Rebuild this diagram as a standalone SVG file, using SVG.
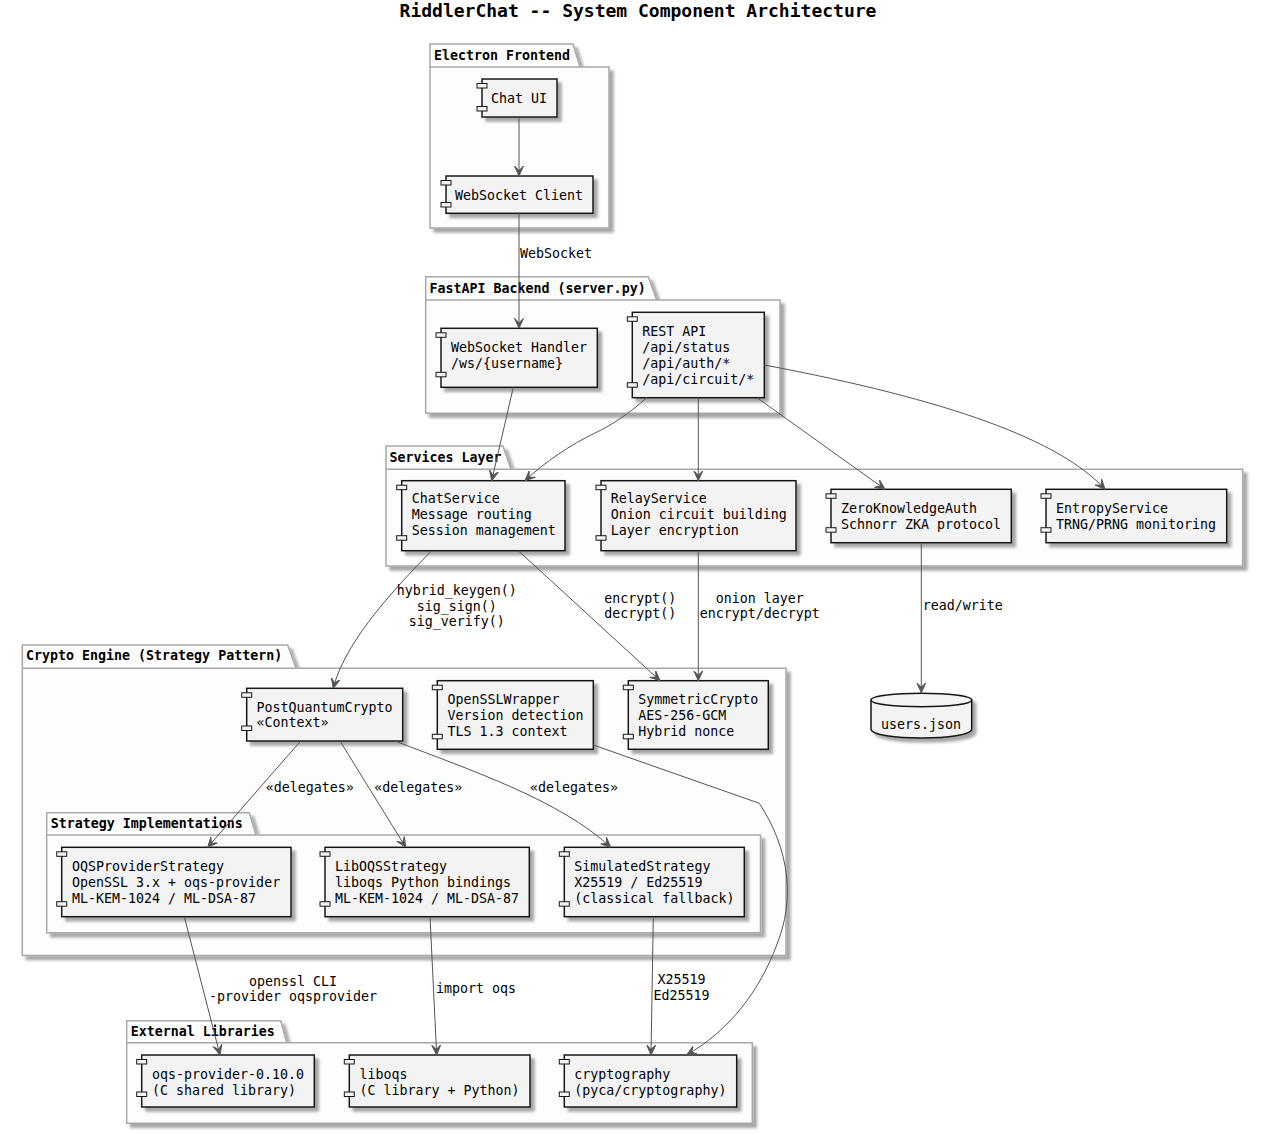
<svg xmlns="http://www.w3.org/2000/svg" width="1263" height="1135" viewBox="0 0 1263 1135">
<style>
.pk{fill:#FDFDFD;stroke:#A8A8A8;stroke-width:1.5}
.pkl{font-family:"DejaVu Sans Mono","Liberation Mono",monospace;font-size:13.3px;font-weight:bold;fill:#000}
.cb{fill:#F3F3F3;stroke:#181818;stroke-width:1.5}
.cs{fill:#F3F3F3;stroke:#181818;stroke-width:1}
.ct{font-family:"DejaVu Sans Mono","Liberation Mono",monospace;font-size:13.3px;fill:#000}
.e{fill:none;stroke:#555555;stroke-width:1;marker-end:url(#arr)}
.el{font-family:"DejaVu Sans Mono","Liberation Mono",monospace;font-size:13.3px;fill:#000}
.mid{text-anchor:middle}
.title{font-family:"DejaVu Sans Mono","Liberation Mono",monospace;font-size:18px;font-weight:bold;fill:#000;text-anchor:middle}
</style>
<defs>
<filter id="sh" x="-10%" y="-10%" width="130%" height="140%">
<feGaussianBlur in="SourceAlpha" stdDeviation="1.5"/>
<feOffset dx="3.5" dy="3.5" result="o"/>
<feComponentTransfer><feFuncA type="linear" slope="0.35"/></feComponentTransfer>
<feMerge><feMergeNode/><feMergeNode in="SourceGraphic"/></feMerge>
</filter>
<marker id="arr" viewBox="0 0 10 10" markerWidth="10" markerHeight="10" refX="10" refY="5" orient="auto" markerUnits="userSpaceOnUse">
<path d="M0,0.5 L10,5 L0,9.5 L4.5,5 Z" fill="#555555" stroke="#555555" stroke-width="1"/>
</marker>
</defs>
<rect width="1263" height="1135" fill="#FFFFFF"/>
<text class="title" x="638" y="17.3">RiddlerChat -- System Component Architecture</text>

<!-- packages -->
<g id="pkg-electron">
<path class="pk" filter="url(#sh)" d="M430,44 L573,44 L580,67 L609,67 L609,228 L430,228 Z"/>
<path class="pk" d="M430,67 L580,67"/>
<text class="pkl" x="434" y="60">Electron Frontend</text>
</g>
<g id="pkg-fastapi">
<path class="pk" filter="url(#sh)" d="M425.7,276.7 L648.3,276.7 L656.7,300 L780,300 L780,413.3 L425.7,413.3 Z"/>
<path class="pk" d="M425.7,300 L656.7,300"/>
<text class="pkl" x="429.5" y="292.7">FastAPI Backend (server.py)</text>
</g>
<g id="pkg-services">
<path class="pk" filter="url(#sh)" d="M386,446 L503,446 L511,469.3 L1242.7,469.3 L1242.7,566 L386,566 Z"/>
<path class="pk" d="M386,469.3 L511,469.3"/>
<text class="pkl" x="389.5" y="461.7">Services Layer</text>
</g>
<g id="pkg-crypto">
<path class="pk" filter="url(#sh)" d="M22.3,645 L287.7,645 L296,668.3 L786,668.3 L786,955.5 L22.3,955.5 Z"/>
<path class="pk" d="M22.3,668.3 L296,668.3"/>
<text class="pkl" x="26" y="660">Crypto Engine (Strategy Pattern)</text>
</g>
<g id="pkg-strategy">
<path class="pk" filter="url(#sh)" d="M46.7,812.7 L249.3,812.7 L256,835 L760.5,835 L760.5,932.7 L46.7,932.7 Z"/>
<path class="pk" d="M46.7,835 L256,835"/>
<text class="pkl" x="50.7" y="827.7">Strategy Implementations</text>
</g>
<g id="pkg-external">
<path class="pk" filter="url(#sh)" d="M126.7,1020.7 L280.7,1020.7 L286.7,1042.7 L752.3,1042.7 L752.3,1123.3 L126.7,1123.3 Z"/>
<path class="pk" d="M126.7,1042.7 L286.7,1042.7"/>
<text class="pkl" x="130.7" y="1036">External Libraries</text>
</g>

<!-- components -->
<g id="chat-ui">
<rect class="cb" filter="url(#sh)" x="482" y="79" width="75" height="38"/>
<rect class="cs" x="477" y="83.5" width="10" height="4.5"/>
<rect class="cs" x="477" y="106.5" width="10" height="4.5"/>
<text class="ct" x="491" y="103">Chat UI</text>
</g>
<g id="ws-client">
<rect class="cb" filter="url(#sh)" x="446" y="176" width="147" height="37.3"/>
<rect class="cs" x="441" y="180.5" width="10" height="4.5"/>
<rect class="cs" x="441" y="202.5" width="10" height="4.5"/>
<text class="ct" x="455" y="199.5">WebSocket Client</text>
</g>
<g id="ws-handler">
<rect class="cb" filter="url(#sh)" x="441" y="328.3" width="156.3" height="59"/>
<rect class="cs" x="436" y="332.8" width="10" height="4.5"/>
<rect class="cs" x="436" y="372.3" width="10" height="4.5"/>
<text class="ct" x="451" y="351.7">WebSocket Handler</text>
<text class="ct" x="451" y="367.7">/ws/{username}</text>
</g>
<g id="rest-api">
<rect class="cb" filter="url(#sh)" x="632.3" y="312.3" width="132" height="85.4"/>
<rect class="cs" x="627.3" y="316.8" width="10" height="4.5"/>
<rect class="cs" x="627.3" y="382.7" width="10" height="4.5"/>
<text class="ct" x="642.3" y="335.7">REST API</text>
<text class="ct" x="642.3" y="351.7">/api/status</text>
<text class="ct" x="642.3" y="367.7">/api/auth/*</text>
<text class="ct" x="642.3" y="383.7">/api/circuit/*</text>
</g>
<g id="chat-service">
<rect class="cb" filter="url(#sh)" x="401.7" y="480.7" width="163.3" height="70"/>
<rect class="cs" x="396.7" y="485.2" width="10" height="4.5"/>
<rect class="cs" x="396.7" y="535.7" width="10" height="4.5"/>
<text class="ct" x="411.7" y="503.3">ChatService</text>
<text class="ct" x="411.7" y="519.3">Message routing</text>
<text class="ct" x="411.7" y="535.3">Session management</text>
</g>
<g id="relay-service">
<rect class="cb" filter="url(#sh)" x="601" y="480.7" width="195" height="70"/>
<rect class="cs" x="596" y="485.2" width="10" height="4.5"/>
<rect class="cs" x="596" y="535.7" width="10" height="4.5"/>
<text class="ct" x="610.7" y="503.3">RelayService</text>
<text class="ct" x="610.7" y="519.3">Onion circuit building</text>
<text class="ct" x="610.7" y="535.3">Layer encryption</text>
</g>
<g id="zka">
<rect class="cb" filter="url(#sh)" x="831" y="489.3" width="180.3" height="53.4"/>
<rect class="cs" x="826" y="493.8" width="10" height="4.5"/>
<rect class="cs" x="826" y="527.7" width="10" height="4.5"/>
<text class="ct" x="841" y="512.7">ZeroKnowledgeAuth</text>
<text class="ct" x="841" y="528.7">Schnorr ZKA protocol</text>
</g>
<g id="entropy">
<rect class="cb" filter="url(#sh)" x="1046" y="489.3" width="180.7" height="53.4"/>
<rect class="cs" x="1041" y="493.8" width="10" height="4.5"/>
<rect class="cs" x="1041" y="527.7" width="10" height="4.5"/>
<text class="ct" x="1056" y="512.7">EntropyService</text>
<text class="ct" x="1056" y="528.7">TRNG/PRNG monitoring</text>
</g>
<g id="users-json">
<path class="cb" filter="url(#sh)" d="M871,700 C871,691 971.7,691 971.7,700 L971.7,729 C971.7,741 871,741 871,729 Z"/>
<path class="cb" fill="none" d="M871,700 C871,709 971.7,709 971.7,700"/>
<text class="ct" x="881" y="729.3">users.json</text>
</g>
<g id="pqc">
<rect class="cb" filter="url(#sh)" x="246.7" y="688.3" width="156" height="52.7"/>
<rect class="cs" x="241.7" y="692.8" width="10" height="4.5"/>
<rect class="cs" x="241.7" y="726" width="10" height="4.5"/>
<text class="ct" x="256.5" y="711.7">PostQuantumCrypto</text>
<text class="ct" x="256.5" y="727.3">«Context»</text>
</g>
<g id="openssl-wrapper">
<rect class="cb" filter="url(#sh)" x="437.3" y="680.7" width="156" height="68.6"/>
<rect class="cs" x="432.3" y="685.2" width="10" height="4.5"/>
<rect class="cs" x="432.3" y="734.3" width="10" height="4.5"/>
<text class="ct" x="447.5" y="704">OpenSSLWrapper</text>
<text class="ct" x="447.5" y="720">Version detection</text>
<text class="ct" x="447.5" y="736">TLS 1.3 context</text>
</g>
<g id="symmetric">
<rect class="cb" filter="url(#sh)" x="628.3" y="680.7" width="140" height="68.6"/>
<rect class="cs" x="623.3" y="685.2" width="10" height="4.5"/>
<rect class="cs" x="623.3" y="734.3" width="10" height="4.5"/>
<text class="ct" x="638.3" y="704">SymmetricCrypto</text>
<text class="ct" x="638.3" y="720">AES-256-GCM</text>
<text class="ct" x="638.3" y="736">Hybrid nonce</text>
</g>
<g id="oqs-provider-strategy">
<rect class="cb" filter="url(#sh)" x="61.7" y="847.3" width="229.3" height="69.4"/>
<rect class="cs" x="56.7" y="851.8" width="10" height="4.5"/>
<rect class="cs" x="56.7" y="901.7" width="10" height="4.5"/>
<text class="ct" x="72" y="870.7">OQSProviderStrategy</text>
<text class="ct" x="72" y="886.7">OpenSSL 3.x + oqs-provider</text>
<text class="ct" x="72" y="902.7">ML-KEM-1024 / ML-DSA-87</text>
</g>
<g id="liboqs-strategy">
<rect class="cb" filter="url(#sh)" x="325" y="847.3" width="204.3" height="69.4"/>
<rect class="cs" x="320" y="851.8" width="10" height="4.5"/>
<rect class="cs" x="320" y="901.7" width="10" height="4.5"/>
<text class="ct" x="335" y="870.7">LibOQSStrategy</text>
<text class="ct" x="335" y="886.7">liboqs Python bindings</text>
<text class="ct" x="335" y="902.7">ML-KEM-1024 / ML-DSA-87</text>
</g>
<g id="simulated-strategy">
<rect class="cb" filter="url(#sh)" x="564.3" y="847.3" width="180" height="69.4"/>
<rect class="cs" x="559.3" y="851.8" width="10" height="4.5"/>
<rect class="cs" x="559.3" y="901.7" width="10" height="4.5"/>
<text class="ct" x="574.3" y="870.7">SimulatedStrategy</text>
<text class="ct" x="574.3" y="886.7">X25519 / Ed25519</text>
<text class="ct" x="574.3" y="902.7">(classical fallback)</text>
</g>
<g id="oqs-provider-lib">
<rect class="cb" filter="url(#sh)" x="141.7" y="1055" width="172.6" height="52"/>
<rect class="cs" x="136.7" y="1059.5" width="10" height="4.5"/>
<rect class="cs" x="136.7" y="1092" width="10" height="4.5"/>
<text class="ct" x="152" y="1079">oqs-provider-0.10.0</text>
<text class="ct" x="152" y="1094.5">(C shared library)</text>
</g>
<g id="liboqs-lib">
<rect class="cb" filter="url(#sh)" x="349.3" y="1055" width="180.7" height="52"/>
<rect class="cs" x="344.3" y="1059.5" width="10" height="4.5"/>
<rect class="cs" x="344.3" y="1092" width="10" height="4.5"/>
<text class="ct" x="359.5" y="1079">liboqs</text>
<text class="ct" x="359.5" y="1094.5">(C library + Python)</text>
</g>
<g id="cryptography-lib">
<rect class="cb" filter="url(#sh)" x="564.3" y="1055" width="172.4" height="52"/>
<rect class="cs" x="559.3" y="1059.5" width="10" height="4.5"/>
<rect class="cs" x="559.3" y="1092" width="10" height="4.5"/>
<text class="ct" x="574.3" y="1079">cryptography</text>
<text class="ct" x="574.3" y="1094.5">(pyca/cryptography)</text>
</g>

<!-- connectors -->
<g id="connectors">
<path class="e" d="M519,117 L519,176"/>
<path class="e" d="M519,213.3 L519,328.3"/>
<text class="el" x="520" y="257.5">WebSocket</text>
<path class="e" d="M513.3,387.3 L491.7,480.7"/>
<path class="e" d="M646.7,397.7 C630,413 612,425 595,433 C570,445 545,462 525,480.7"/>
<path class="e" d="M698.3,397.7 L698.3,480.7"/>
<path class="e" d="M757,397.7 L885,489.3"/>
<path class="e" d="M764.3,365 C950,400 1060,440 1105,489.3"/>
<path class="e" d="M431.7,550.7 C400,583 345,640 333.3,688.3"/>
<text class="el mid" x="456.7" y="595">hybrid_keygen()</text>
<text class="el mid" x="456.7" y="610.7">sig_sign()</text>
<text class="el mid" x="456.7" y="626">sig_verify()</text>
<path class="e" d="M518.3,550.7 L660,680.7"/>
<text class="el mid" x="640.3" y="603.3">encrypt()</text>
<text class="el mid" x="640.3" y="618.3">decrypt()</text>
<path class="e" d="M698.3,550.7 L698.3,680.7"/>
<text class="el mid" x="759.8" y="603.3">onion layer</text>
<text class="el mid" x="759.8" y="618.3">encrypt/decrypt</text>
<path class="e" d="M921.3,542.7 L921.3,692.7"/>
<text class="el" x="922.7" y="610">read/write</text>
<path class="e" d="M300.7,741 L207.7,847.3"/>
<text class="el" x="265.7" y="791.7">«delegates»</text>
<path class="e" d="M340,741 L405.7,847.3"/>
<text class="el" x="374.3" y="791.7">«delegates»</text>
<path class="e" d="M395,741 C470,770 560,800 610.7,847.3"/>
<text class="el" x="530" y="791.7">«delegates»</text>
<path class="e" d="M593.3,745 L759.3,803.3 C790,850 795,900 776.7,945 C760,990 730,1030 686.7,1055"/>
<path class="e" d="M184.3,916.7 L220,1055"/>
<text class="el mid" x="293" y="985.7">openssl CLI</text>
<text class="el mid" x="293" y="1000.7">-provider oqsprovider</text>
<path class="e" d="M430,916.7 L436.7,1055"/>
<text class="el" x="436" y="993.3">import oqs</text>
<path class="e" d="M653.3,916.7 L651,1055"/>
<text class="el mid" x="681.5" y="984.3">X25519</text>
<text class="el mid" x="681.5" y="1000">Ed25519</text>
</g>
</svg>
